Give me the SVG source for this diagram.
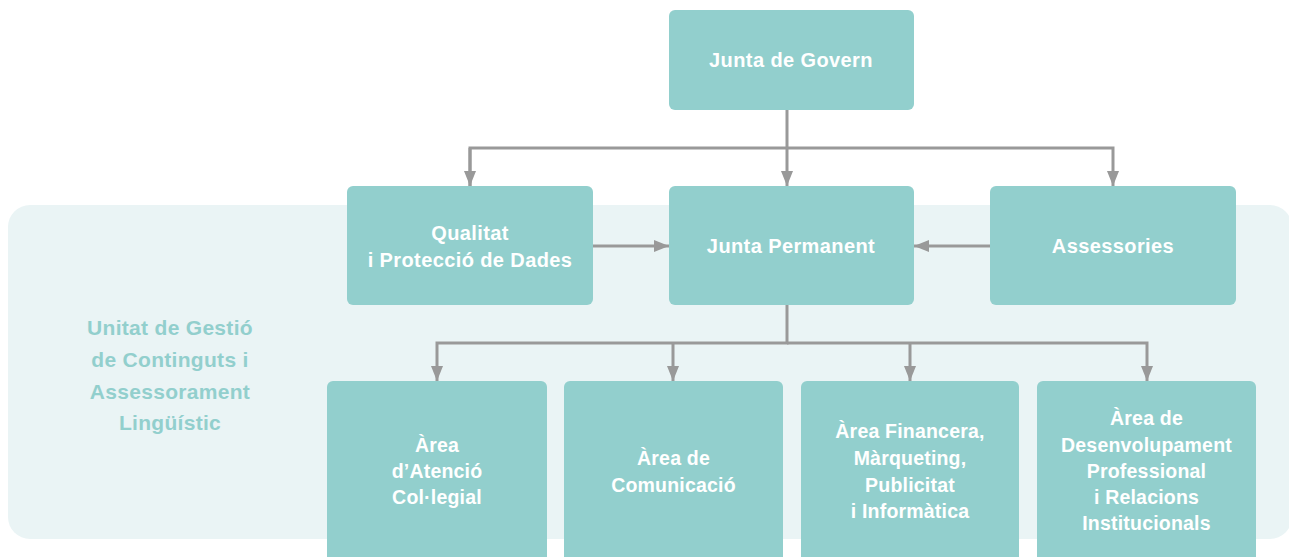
<svg xmlns="http://www.w3.org/2000/svg" width="1289" height="557" viewBox="0 0 1289 557">
<style>
.box{fill:#92cfcd}
.t{font-family:"Liberation Sans",Arial,sans-serif;font-weight:bold;fill:#ffffff;text-anchor:middle}
.top{font-size:20px;letter-spacing:0.4px}
.bot{font-size:19.5px;letter-spacing:0.2px}
.lbl{font-family:"Liberation Sans",Arial,sans-serif;font-weight:bold;fill:#92cfcd;text-anchor:middle;font-size:21px;letter-spacing:0.3px}
.c{fill:none;stroke:#999999;stroke-width:3}
</style>
<defs>
<marker id="ah" markerUnits="userSpaceOnUse" markerWidth="15" markerHeight="12" refX="15" refY="6" orient="auto">
<path d="M0,0 L15,6 L0,12 z" fill="#999999"/>
</marker>
</defs>
<rect id="panel" x="8" y="205" width="1284" height="334" rx="22" fill="#eaf4f5"/>
<g id="unitat">
<text class="lbl" x="170" y="335">Unitat de Gestió</text>
<text class="lbl" x="170" y="367">de Continguts i</text>
<text class="lbl" x="170" y="399">Assessorament</text>
<text class="lbl" x="170" y="430">Lingüístic</text>
</g>
<g id="connectors">
<path class="c" d="M787,110 V186" marker-end="url(#ah)"/>
<path class="c" d="M470,186 V148 H1113 V186" marker-end="url(#ah)"/>
<path class="c" d="M470,148 V186" marker-end="url(#ah)"/>
<path class="c" d="M593,246 H669" marker-end="url(#ah)"/>
<path class="c" d="M990,246 H914" marker-end="url(#ah)"/>
<path class="c" d="M787,305 V343 H437 V381" marker-end="url(#ah)"/>
<path class="c" d="M787,343 H1147 V381" marker-end="url(#ah)"/>
<path class="c" d="M673,343 V381" marker-end="url(#ah)"/>
<path class="c" d="M910,343 V381" marker-end="url(#ah)"/>
</g>
<g id="junta-govern">
<rect class="box" x="669" y="10" width="245" height="100" rx="6"/>
<text class="t top" x="791" y="67">Junta de Govern</text>
</g>
<g id="qualitat">
<rect class="box" x="347" y="186" width="246" height="119" rx="6"/>
<text class="t top" x="470" y="240">Qualitat</text>
<text class="t top" x="470" y="267">i Protecció de Dades</text>
</g>
<g id="junta-permanent">
<rect class="box" x="669" y="186" width="245" height="119" rx="6"/>
<text class="t top" x="791" y="253">Junta Permanent</text>
</g>
<g id="assessories">
<rect class="box" x="990" y="186" width="246" height="119" rx="6"/>
<text class="t top" x="1113" y="253">Assessories</text>
</g>
<g id="area-atencio">
<rect class="box" x="327" y="381" width="220" height="200" rx="6"/>
<text class="t bot" x="437" y="452">Àrea</text>
<text class="t bot" x="437" y="478">d’Atenció</text>
<text class="t bot" x="437" y="504">Col·legial</text>
</g>
<g id="area-comunicacio">
<rect class="box" x="564" y="381" width="219" height="200" rx="6"/>
<text class="t bot" x="673.5" y="465">Àrea de</text>
<text class="t bot" x="673.5" y="492">Comunicació</text>
</g>
<g id="area-financera">
<rect class="box" x="801" y="381" width="218" height="200" rx="6"/>
<text class="t bot" x="910" y="438">Àrea Financera,</text>
<text class="t bot" x="910" y="465">Màrqueting,</text>
<text class="t bot" x="910" y="492">Publicitat</text>
<text class="t bot" x="910" y="518">i Informàtica</text>
</g>
<g id="area-desenvolupament">
<rect class="box" x="1037" y="381" width="219" height="200" rx="6"/>
<text class="t bot" x="1146.5" y="425">Àrea de</text>
<text class="t bot" x="1146.5" y="452">Desenvolupament</text>
<text class="t bot" x="1146.5" y="478">Professional</text>
<text class="t bot" x="1146.5" y="504">i Relacions</text>
<text class="t bot" x="1146.5" y="530">Institucionals</text>
</g>
</svg>
